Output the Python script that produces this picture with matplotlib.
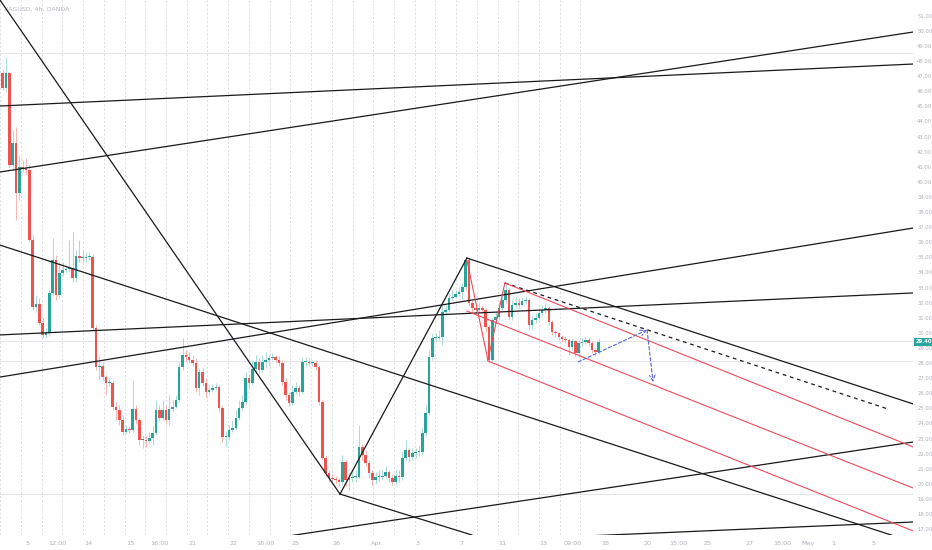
import matplotlib
matplotlib.use("Agg")
import matplotlib.pyplot as plt
from matplotlib import transforms
import numpy as np

# --- candles (4h bars) ---
first_open = 47.21
closes = [46.21, 47.21, 41.11, 42.57, 39.26, 40.98, 40.91, 40.78, 36.15, 31.71,
          31.91, 30.65, 29.86, 29.99, 32.64, 34.82, 32.50, 33.96, 34.16, 34.23,
          34.29, 33.63, 35.09, 34.95, 34.95, 35.02, 35.02, 30.32, 27.73, 27.80,
          27.07, 26.67, 26.67, 25.08, 24.89, 24.23, 23.43, 23.63, 23.56, 24.95,
          24.23, 22.90, 22.90, 22.83, 23.03, 23.36, 24.89, 24.36, 24.89, 24.23,
          24.95, 25.08, 25.55, 27.73, 28.53, 28.40, 28.20, 28.00, 26.34, 27.40,
          26.67, 26.08, 26.21, 26.34, 26.41, 25.02, 23.10, 23.10, 23.56, 23.69,
          24.36, 25.02, 25.42, 27.00, 26.67, 27.60, 28.07, 27.54, 28.07, 28.20,
          28.33, 28.40, 28.20, 28.00, 26.74, 25.88, 25.35, 26.08, 26.34, 26.08,
          28.07, 28.07, 28.00, 28.00, 27.73, 25.42, 21.71, 20.72, 20.39, 20.32,
          20.25, 20.12, 21.44, 20.25, 20.39, 20.45, 20.45, 22.44, 21.91, 21.38,
          20.72, 20.25, 20.45, 20.45, 20.52, 20.78, 20.39, 20.12, 20.52, 20.45,
          21.71, 22.24, 21.77, 22.04, 22.11, 22.11, 23.36, 24.69, 28.40, 29.66,
          29.66, 29.73, 31.38, 31.51, 32.31, 32.37, 32.57, 32.70, 33.03, 34.82,
          31.97, 31.64, 31.51, 31.64, 31.51, 30.38, 28.20, 30.85, 31.05, 31.64,
          32.17, 32.84, 31.05, 31.84, 31.97, 31.84, 32.11, 32.17, 30.52, 30.85,
          30.98, 31.31, 31.51, 31.64, 30.72, 30.05, 29.99, 29.73, 29.60, 29.53,
          29.07, 29.46, 28.66, 29.33, 29.40, 29.53, 29.33, 28.86, 28.73, 29.40]
highs = [47.40, 48.27, 47.27, 43.43, 43.63, 41.78, 41.44, 41.58, 41.11, 36.48,
         32.50, 32.31, 30.98, 30.32, 32.84, 36.28, 35.15, 34.69, 34.69, 34.49,
         36.15, 36.68, 35.48, 36.15, 35.48, 35.35, 35.35, 35.22, 30.52, 28.53,
         28.07, 27.20, 27.00, 26.87, 25.42, 25.22, 24.56, 23.89, 23.83, 26.87,
         25.22, 24.36, 23.23, 23.16, 23.43, 23.89, 25.55, 25.22, 25.55, 25.22,
         25.88, 25.55, 25.88, 28.07, 29.66, 28.86, 28.73, 28.53, 28.33, 27.67,
         27.67, 27.00, 26.54, 26.61, 26.67, 26.54, 25.22, 23.43, 23.89, 24.23,
         24.89, 25.55, 25.88, 27.40, 27.27, 28.20, 28.53, 28.33, 28.53, 28.73,
         28.53, 28.66, 28.53, 28.46, 28.20, 27.00, 26.08, 26.54, 26.74, 26.54,
         28.33, 28.40, 28.33, 28.20, 28.20, 27.87, 25.55, 21.91, 20.92, 20.65,
         20.52, 20.39, 21.91, 21.58, 20.78, 20.78, 20.92, 23.89, 22.64, 22.24,
         21.58, 20.92, 20.78, 20.92, 20.92, 21.18, 20.92, 20.59, 20.92, 20.92,
         22.11, 22.90, 22.37, 22.37, 22.37, 22.51, 23.69, 25.22, 28.86, 29.99,
         29.99, 30.19, 31.84, 31.84, 32.64, 32.84, 32.84, 33.03, 33.30, 34.95,
         34.95, 32.17, 31.84, 31.97, 31.84, 31.64, 30.52, 30.98, 31.38, 32.04,
         32.50, 33.23, 32.97, 32.17, 32.37, 32.31, 32.37, 32.44, 32.31, 31.18,
         31.31, 31.64, 31.84, 31.97, 31.77, 30.85, 30.19, 30.05, 29.86, 29.79,
         29.66, 29.66, 29.53, 29.53, 29.66, 29.79, 29.66, 29.46, 29.00, 29.66]
lows = [46.08, 45.95, 40.91, 40.78, 37.47, 38.80, 40.65, 40.52, 36.01, 31.51,
        31.38, 30.52, 29.66, 29.66, 29.79, 32.44, 32.17, 32.31, 33.76, 34.03,
        34.03, 33.37, 33.37, 34.69, 34.69, 34.69, 34.82, 30.19, 27.54, 26.87,
        26.87, 25.88, 26.47, 24.89, 24.23, 23.89, 23.23, 23.30, 23.36, 23.43,
        23.96, 22.57, 22.37, 22.44, 22.70, 22.57, 23.23, 24.23, 24.23, 23.96,
        23.89, 24.75, 25.02, 25.42, 27.54, 28.07, 28.00, 27.80, 26.08, 25.88,
        26.47, 25.68, 25.88, 26.08, 26.21, 24.75, 22.77, 22.44, 22.90, 23.43,
        23.56, 24.23, 24.89, 25.29, 26.34, 26.54, 27.40, 27.34, 27.40, 27.67,
        27.80, 28.20, 28.00, 27.80, 26.54, 25.55, 25.15, 25.22, 25.95, 25.82,
        25.95, 27.80, 27.80, 27.80, 27.54, 25.22, 21.58, 20.52, 20.12, 20.12,
        19.99, 19.86, 19.92, 19.86, 19.59, 20.12, 20.12, 20.39, 21.58, 21.18,
        20.39, 19.86, 19.99, 20.12, 20.25, 20.39, 20.12, 19.92, 19.86, 20.12,
        20.25, 21.58, 21.44, 21.58, 21.71, 21.84, 21.91, 23.16, 24.56, 28.20,
        29.40, 29.53, 29.20, 31.11, 31.38, 32.17, 32.31, 32.44, 32.17, 32.84,
        31.77, 31.38, 31.31, 31.31, 31.31, 30.05, 28.07, 28.07, 30.72, 30.85,
        31.51, 31.97, 30.85, 30.85, 31.64, 31.64, 31.77, 31.91, 30.19, 30.19,
        30.65, 30.85, 31.11, 31.31, 30.52, 29.86, 29.73, 29.53, 29.40, 29.33,
        28.53, 28.86, 28.40, 28.46, 29.13, 29.27, 29.13, 28.66, 28.46, 28.60]

# --- drawings: (bar index, price) end points ---
black_lines = [
    ((-0.81, 52.04), (101.3, 19.32)),
    ((101.3, 19.32), (139.4, 34.95)),
    ((101.3, 19.32), (140.9, 16.61)),
    ((139.4, 34.95), (273.4, 25.29)),
    ((-0.81, 35.81), (268.6, 16.48)),
    ((-0.81, 27.07), (273.4, 36.94)),
    ((-0.81, 40.65), (273.4, 49.92)),
    ((-0.81, 45.02), (273.4, 47.80)),
    ((-0.81, 29.86), (273.4, 32.64)),
    ((85.7, 16.54), (273.4, 22.77)),
    ((168.3, 16.48), (273.4, 17.47)),
]
dashed_line = ((150.8, 33.30), (265.9, 24.95))
red_lines = [
    ((139.4, 34.82), (145.7, 28.20)),
    ((145.7, 28.20), (150.8, 33.30)),
    ((150.8, 33.30), (273.4, 22.44)),
    ((139.4, 31.44), (273.4, 19.72)),
    ((145.7, 28.13), (273.4, 16.88)),
]
forecast_path = [(172.8, 28.07), (193.5, 30.19), (195.3, 26.74)]
h_levels = [48.53, 29.46, 28.13, 19.32]
last_price = 29.40

price_ticks = list(range(17, 52))
date_pos = [7.3, 16.3, 25.6, 38.2, 47.2, 56.9, 69.2, 78.8, 87.8, 100.4, 112.4,
            124.7, 137.9, 149.9, 162.3, 171.3, 180.9, 193.5, 202.8, 211.8,
            224.4, 234.0, 241.8, 249.3, 261.4]
date_labels = ["5", "12:00", "14", "15", "16:00", "21", "22", "16:00", "25", "26", "Apr",
               "3", "7", "11", "13", "09:00", "18", "20", "15:00", "25",
               "27", "18:00", "May", "1", "5"]

UP = "#26a69a"
DOWN = "#ef5350"

fig = plt.figure(figsize=(9.32, 5.5), dpi=100)
ax = fig.add_axes([0, 15 / 550, 913 / 932, 535 / 550])
ax.set_xlim(-0.81, 273.36)
ax.set_ylim(16.61, 52.04)
for s in ax.spines.values():
    s.set_visible(False)

# vertical day grid (only over the candle area)
for gx in np.arange(-0.72, 175, 6.222):
    ax.axvline(gx, color="#d6d8de", lw=0.6, ls=(0, (2.5, 2.5)), zorder=0)
for lvl in h_levels:
    ax.axhline(lvl, color="#e3e5ea", lw=0.8, zorder=0)

opens = [first_open] + closes[:-1]
xs = np.arange(len(closes))
for i in xs:
    o, c, h, l = opens[i], closes[i], highs[i], lows[i]
    col = UP if c >= o else DOWN
    wick = "#9fd6cf" if c >= o else "#f5a9a7"
    ax.vlines(i, min(l, o, c), max(h, o, c), color=wick, lw=0.6, zorder=2)
    body = max(abs(c - o), 0.06)
    ax.bar(i, body, bottom=min(o, c), width=0.78, color=col, lw=0, zorder=3)

for (x0, y0), (x1, y1) in black_lines:
    ax.plot([x0, x1], [y0, y1], color="#1a1a1a", lw=0.9, zorder=4)
(x0, y0), (x1, y1) = dashed_line
ax.plot([x0, x1], [y0, y1], color="#1a1a1a", lw=0.9, ls=(0, (3, 3)), zorder=4)
for (x0, y0), (x1, y1) in red_lines:
    ax.plot([x0, x1], [y0, y1], color="#ee4a5c", lw=0.8, zorder=4)

for a, b in zip(forecast_path[:-1], forecast_path[1:]):
    ax.annotate("", xy=b, xytext=a,
                arrowprops=dict(arrowstyle="->", color="#5865d8", lw=0.8,
                                linestyle=(0, (3, 2)), shrinkA=0, shrinkB=0),
                zorder=5)

# axes labels
ax.yaxis.tick_right()
ax.set_yticks(price_ticks)
ax.set_yticklabels([f"{v:.2f}" for v in price_ticks])
ax.set_xticks(date_pos)
ax.set_xticklabels(date_labels)
ax.tick_params(axis="both", length=0, labelcolor="#aeb1b9")
ax.tick_params(axis="y", pad=3, labelsize=3.8)
ax.tick_params(axis="x", pad=4, labelsize=4.6)

trans = transforms.blended_transform_factory(ax.transAxes, ax.transData)
ax.text(1.003, last_price, f"{last_price:.2f}", transform=trans, va="center", ha="left",
        fontsize=3.8, color="white", fontweight="bold", clip_on=False,
        bbox=dict(boxstyle="square,pad=0.3", fc=UP, ec="none"))

ax.text(0.004, 0.988, "XAGUSD, 4h, OANDA", transform=ax.transAxes, fontsize=4.5,
        color="#b2b5be", va="top", ha="left")

fig.savefig("out.png", dpi=100)
